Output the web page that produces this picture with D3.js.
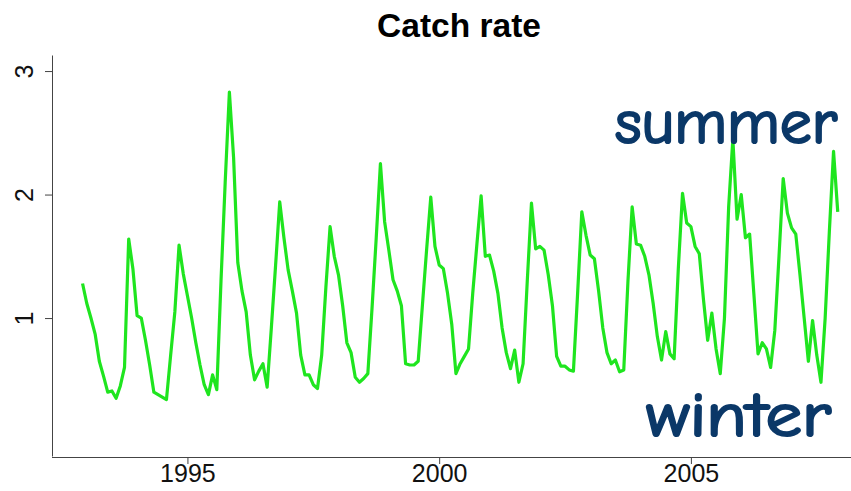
<!DOCTYPE html>
<html>
<head>
<meta charset="utf-8">
<script src="https://cdn.jsdelivr.net/npm/d3@7"></script>
<style>
  html, body { margin: 0; padding: 0; background: #ffffff; }
  svg { display: block; }
</style>
</head>
<body>
<svg id="chart" width="851" height="491"></svg>
<script>
// ---- data ----
const title = "Catch rate";
const startYear = 1992 + 11 / 12;          // first monthly observation (Dec 1992)
const catchRate = [
  1.28, 1.12, 1.00, 0.87, 0.65, 0.53, 0.40, 0.41, 0.35, 0.45, 0.60, 1.64,
  1.40, 1.02, 1.00, 0.82, 0.62, 0.40, 0.38, 0.36, 0.34, 0.70, 1.05, 1.59,
  1.36, 1.18, 1.00, 0.80, 0.62, 0.46, 0.38, 0.54, 0.42, 1.30, 2.10, 2.83,
  2.30, 1.45, 1.22, 1.05, 0.70, 0.50, 0.57, 0.63, 0.44, 0.92, 1.42, 1.94,
  1.65, 1.39, 1.22, 1.04, 0.70, 0.54, 0.54, 0.46, 0.43, 0.70, 1.25, 1.74,
  1.50, 1.35, 1.10, 0.80, 0.72, 0.52, 0.48, 0.51, 0.55, 1.08, 1.65, 2.25,
  1.78, 1.55, 1.31, 1.22, 1.10, 0.63, 0.62, 0.62, 0.65, 1.10, 1.55, 1.98,
  1.58, 1.43, 1.40, 1.20, 0.95, 0.55, 0.63, 0.69, 0.75, 1.20, 1.60, 1.99,
  1.50, 1.51, 1.38, 1.20, 0.92, 0.72, 0.59, 0.74, 0.48, 0.63, 1.30, 1.93,
  1.56, 1.58, 1.55, 1.35, 1.10, 0.69, 0.61, 0.61, 0.58, 0.57, 1.20, 1.86,
  1.67, 1.51, 1.48, 1.22, 0.92, 0.72, 0.63, 0.66, 0.565, 0.58, 1.30, 1.90,
  1.60, 1.59, 1.50, 1.35, 1.12, 0.85, 0.66, 0.89, 0.71, 0.67, 1.40, 2.01,
  1.77, 1.74, 1.58, 1.52, 1.15, 0.82, 1.04, 0.75, 0.55, 1.00, 1.90, 2.45,
  1.80, 2.00, 1.65, 1.68, 1.20, 0.71, 0.80, 0.75, 0.60, 0.90, 1.50, 2.13,
  1.85, 1.73, 1.68, 1.35, 1.00, 0.65, 0.98, 0.70, 0.48, 1.00, 1.70, 2.35, 1.86
];
const xTicks = [1995, 2000, 2005];
const yTicks = [1, 2, 3];
const annotations = ["summer", "winter"];

// ---- chart ----
const svg = d3.select("#chart");

const x = d3.scaleLinear().domain([1992.3, 2008.18]).range([51.5, 851]);
const y = d3.scaleLinear().domain([-0.117, 3.13]).range([456, 55]);

const series = catchRate.map((v, i) => ({ t: startYear + i / 12, v }));

// title
svg.append("text")
  .attr("x", 459).attr("y", 37)
  .attr("text-anchor", "middle")
  .attr("font-family", "Liberation Sans, Arial, sans-serif")
  .attr("font-weight", "bold")
  .attr("font-size", 33.5)
  .attr("fill", "#000")
  .text(title);

// line
const line = d3.line().x(d => x(d.t)).y(d => y(d.v));
svg.append("path")
  .datum(series)
  .attr("fill", "none")
  .attr("stroke", "#1fe51f")
  .attr("stroke-width", 3.2)
  .attr("stroke-linejoin", "round")
  .attr("d", line);

// x axis
const xAxis = svg.append("g")
  .attr("transform", "translate(0,457)")
  .call(d3.axisBottom(x).tickValues(xTicks).tickFormat(d3.format("d")).tickSize(7).tickSizeOuter(0));
xAxis.select(".domain").attr("stroke", "#444").attr("stroke-width", 1);
xAxis.selectAll(".tick line").attr("stroke", "#444");
xAxis.selectAll(".tick text")
  .attr("font-family", "Liberation Sans, Arial, sans-serif")
  .attr("font-size", 25)
  .attr("fill", "#111")
  .attr("dy", "0.75em")
  .attr("y", 6);

// y axis
const yAxis = svg.append("g")
  .attr("transform", "translate(52,0)")
  .call(d3.axisLeft(y).tickValues(yTicks).tickFormat(d3.format("d")).tickSize(7).tickSizeOuter(0));
yAxis.select(".domain").attr("stroke", "#444").attr("stroke-width", 1);
yAxis.selectAll(".tick line").attr("stroke", "#444");
yAxis.selectAll(".tick text")
  .attr("font-family", "Liberation Sans, Arial, sans-serif")
  .attr("font-size", 25)
  .attr("fill", "#111")
  .attr("text-anchor", "middle")
  .attr("x", null).attr("dy", null)
  .attr("transform", "translate(-19,0) rotate(-90)")
  .attr("y", 0);

// annotations
const annFont = "'Comic Sans MS', 'Comic Neue', 'DejaVu Sans', sans-serif";
svg.append("text")
  .attr("x", 615).attr("y", 143)
  .attr("font-family", annFont)
  .attr("font-size", 62)
  .attr("fill", "#0b3868")
  .attr("stroke", "#0b3868")
  .attr("stroke-width", 2.2)
  .attr("stroke-linejoin", "round")
  .attr("textLength", 222)
  .attr("lengthAdjust", "spacingAndGlyphs")
  .text(annotations[0]);
svg.append("text")
  .attr("x", 646).attr("y", 436)
  .attr("font-family", annFont)
  .attr("font-size", 62)
  .attr("fill", "#0b3868")
  .attr("stroke", "#0b3868")
  .attr("stroke-width", 2.2)
  .attr("stroke-linejoin", "round")
  .attr("textLength", 185)
  .attr("lengthAdjust", "spacingAndGlyphs")
  .text(annotations[1]);
</script>
</body>
</html>
